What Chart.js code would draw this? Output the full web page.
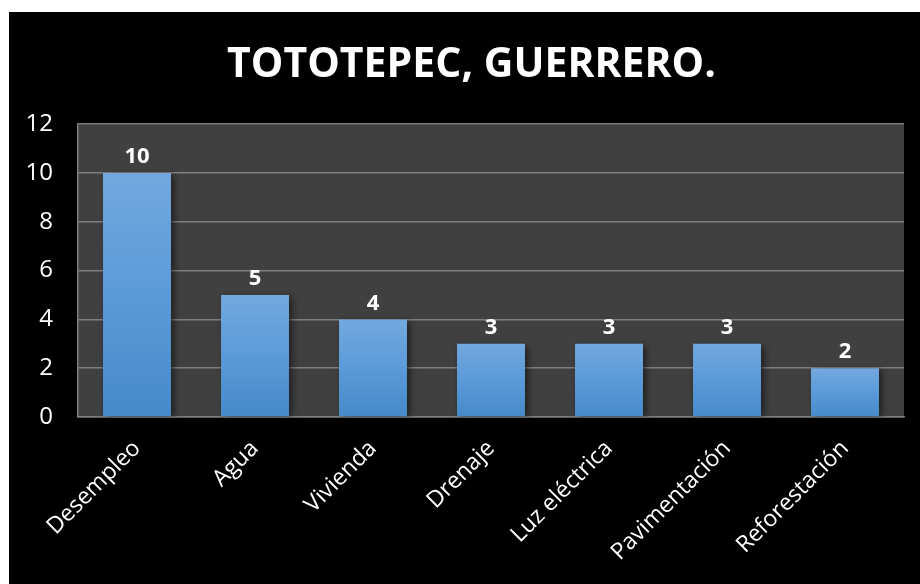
<!DOCTYPE html>
<html>
<head>
<meta charset="utf-8">
<script src="https://cdn.jsdelivr.net/npm/chart.js@4.4.1/dist/chart.umd.min.js"></script>
<style>
  html, body { margin: 0; padding: 0; background: #ffffff; width: 920px; height: 584px; overflow: hidden; }
  #wrap { position: absolute; left: 9px; top: 12px; width: 925px; height: 572px; background: #000000; }
</style>
</head>
<body>
<div id="wrap"><canvas id="c" width="925" height="572"></canvas></div>
<script>
const chartTitle = "TOTOTEPEC, GUERRERO.";
const categories = ["Desempleo", "Agua", "Vivienda", "Drenaje", "Luz eléctrica", "Pavimentación", "Reforestación"];
const values = [10, 5, 4, 3, 3, 3, 2];
const yTicks = [0, 2, 4, 6, 8, 10, 12];

const FONT = "'Open Sans', 'DejaVu Sans', sans-serif";

const plotBg = {
  id: 'plotBg',
  beforeDraw(chart) {
    const { ctx, chartArea: a } = chart;
    ctx.save();
    ctx.fillStyle = '#000000';
    ctx.fillRect(0, 0, chart.width, chart.height);
    ctx.fillStyle = '#404040';
    ctx.fillRect(a.left, a.top, a.right - a.left, a.bottom - a.top);
    ctx.restore();
  }
};

function barGradient(c) {
  const chart = c.chart;
  const ys = chart.scales && chart.scales.y;
  if (!ys || c.raw === undefined || !isFinite(ys.getPixelForValue(0))) return '#5b9ad9';
  const top = ys.getPixelForValue(c.raw);
  const base = ys.getPixelForValue(0);
  const g = chart.ctx.createLinearGradient(0, top, 0, base);
  g.addColorStop(0, '#73a8de');
  g.addColorStop(0.5, '#5b9ad9');
  g.addColorStop(1, '#468ac9');
  return g;
}

const barStyle = {
  id: 'barStyle',
  beforeDatasetsDraw(chart) {
    const { ctx } = chart;
    ctx.save();
    ctx.shadowColor = 'rgba(0,0,0,0.55)';
    ctx.shadowBlur = 7;
    ctx.shadowOffsetX = 3;
    ctx.shadowOffsetY = 2;
  },
  afterDatasetsDraw(chart) {
    const { ctx } = chart;
    ctx.restore();
    const meta = chart.getDatasetMeta(0);
    ctx.save();
    ctx.fillStyle = '#ffffff';
    ctx.font = "bold 22px " + FONT;
    ctx.textAlign = 'center';
    ctx.textBaseline = 'bottom';
    meta.data.forEach((el, i) => {
      ctx.fillText(String(values[i]), el.x, el.y - 5);
    });
    ctx.restore();
  }
};

new Chart(document.getElementById('c'), {
  type: 'bar',
  data: {
    labels: categories,
    datasets: [{
      data: values,
      backgroundColor: barGradient,
      borderWidth: 0,
      categoryPercentage: 1.0,
      barPercentage: 0.576
    }]
  },
  options: {
    responsive: false,
    animation: false,
    devicePixelRatio: 1,
    layout: { padding: { left: 0, right: 0, top: 0, bottom: 0 } },
    plugins: {
      legend: { display: false },
      tooltip: { enabled: false },
      title: {
        display: true,
        text: chartTitle,
        color: '#ffffff',
        font: { family: FONT, size: 41, weight: 'bold' },
        padding: { top: 29, bottom: 34 }
      }
    },
    scales: {
      x: {
        grid: { display: false, drawTicks: false },
        border: { display: true, color: '#7f7f7f', width: 1.5 },
        ticks: {
          color: '#ffffff',
          font: { family: FONT, size: 23 },
          minRotation: 45,
          maxRotation: 45,
          padding: 18,
          autoSkip: false
        },
        afterFit(scale) { scale.height = 167; }
      },
      y: {
        min: 0,
        max: 12,
        afterBuildTicks(scale) { scale.ticks = yTicks.map(v => ({ value: v })); },
        grid: { color: '#7f7f7f', lineWidth: 1.5, drawTicks: false },
        border: { display: true, color: '#7f7f7f', width: 1.5 },
        ticks: {
          color: '#ffffff',
          font: { family: FONT, size: 24 },
          padding: 25
        },
        afterFit(scale) { scale.width = 69; }
      },
      yRight: {
        position: 'right',
        min: 0,
        max: 12,
        grid: { display: false, drawTicks: false },
        border: { display: false },
        ticks: { display: false },
        afterFit(scale) { scale.width = 30; }
      }
    }
  },
  plugins: [plotBg, barStyle]
});
</script>
</body>
</html>
